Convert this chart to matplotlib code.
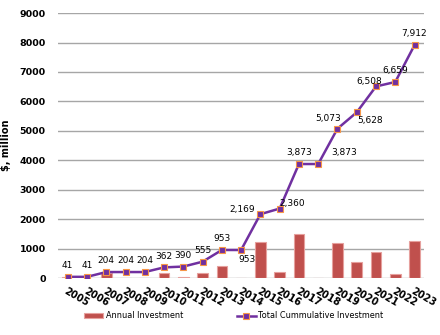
import matplotlib
matplotlib.use("Agg")
import matplotlib.pyplot as plt
import matplotlib.transforms as mtransforms
import numpy as np

years = [str(y) for y in range(2005, 2024)]
annual = [41, 0, 163, 0, 0, 158, 28, 165, 398, 0, 1216, 191, 1513, 0, 1200, 555, 880, 151, 1253]
cumulative = [41, 41, 204, 204, 204, 362, 390, 555, 953, 953, 2169, 2360, 3873, 3873, 5073, 5628, 6508, 6659, 7912]
cum_labels = ["41", "41", "204", "204", "204", "362", "390", "555", "953", "953", "2,169", "2,360",
              "3,873", "3,873", "5,073", "5,628", "6,508", "6,659", "7,912"]
yticks = [0, 1000, 2000, 3000, 4000, 5000, 6000, 7000, 8000, 9000]

# label centre offsets (points)
offsets = {9: (4, -7), 10: (-13, 3.5), 11: (9, 3.5), 13: (19, 8), 14: (-6.5, 7), 15: (9.5, -6),
           16: (-5, 3.5)}

fig = plt.figure(figsize=(4.4, 3.35), dpi=100)
ax = fig.add_axes([0.132, 0.170, 0.832, 0.791])
x = np.arange(len(years))
bars = ax.bar(x, annual, width=0.55, color="#C0504D", edgecolor="#E6A09D", linewidth=0.8, zorder=2,
              label="Annual Investment")
line, = ax.plot(x, cumulative, color="#7030A0", linewidth=1.8, marker="s", markersize=4,
                markerfacecolor="#7030A0", markeredgecolor="#F79646", markeredgewidth=0.8, zorder=3,
                label="Total Cummulative Investment")
for i, (v, lab) in enumerate(zip(cumulative, cum_labels)):
    dx, dy = offsets.get(i, (0, 8))
    ax.annotate(lab, (i, v), xytext=(dx, dy), textcoords="offset points", ha="center", va="center",
                fontsize=6.5, color="black")
ax.set_xlim(-0.5, len(years) - 0.5)
ax.set_ylim(0, 9000)
ax.set_yticks(yticks)
ax.set_yticklabels([str(t) for t in yticks], fontsize=6.8, fontweight="bold")
ax.set_xticks(x)
ax.set_xticklabels(years, fontsize=7, fontweight="bold", rotation=-30, ha="left",
                   rotation_mode="anchor")
shift = mtransforms.ScaledTranslation(4 / 72, 0, fig.dpi_scale_trans)
for lbl in ax.get_xticklabels():
    lbl.set_transform(lbl.get_transform() + shift)
ax.tick_params(axis="y", length=0, pad=9)
ax.tick_params(axis="x", length=0, pad=6)
ax.grid(axis="y", color="#A6A6A6", linewidth=1, zorder=0)
ax.set_axisbelow(True)
for s in ax.spines.values():
    s.set_visible(False)
ax.set_ylabel("$, million", fontsize=7, fontweight="bold", labelpad=6)
fig.legend([bars, line], ["Annual Investment", "Total Cummulative Investment"],
           loc="center", bbox_to_anchor=(0.532, 0.057), ncol=2, frameon=False, fontsize=5.9,
           handlelength=2.3, handletextpad=0.35, columnspacing=6.5)
fig.savefig("out.png", dpi=100)
